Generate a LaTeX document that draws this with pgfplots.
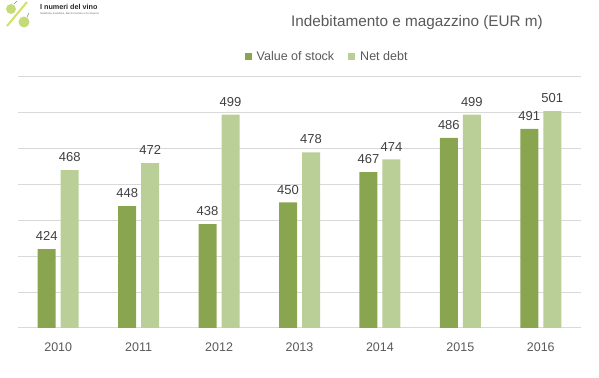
\documentclass[border=0pt]{standalone}
\usepackage{fontspec}
\setmainfont{Liberation Sans}
\usepackage{pgfplots}
\pgfplotsset{compat=1.18}
\definecolor{darkg}{HTML}{8AA54F}
\definecolor{lightg}{HTML}{BACE97}
\definecolor{gridg}{HTML}{D9D9D9}
\definecolor{txt}{HTML}{595959}
\definecolor{lbl}{HTML}{404040}
\definecolor{grape}{HTML}{C5DB7A}
\begin{document}
\begin{tikzpicture}
\path[use as bounding box] (0,0) rectangle (599bp,378bp);
% logo
\draw[grape!80!yellow, line width=2bp] (7bp,352bp) -- (27bp,376bp);
\fill[grape] (11bp,369bp) circle (5bp);
\fill[grape] (24bp,356bp) circle (5.5bp);
\draw[green!40!black!60, line width=0.5bp] (14bp,374bp) -- (17bp,377bp);
\draw[green!40!black!60, line width=0.5bp] (27bp,361bp) -- (29bp,365bp);
\node[anchor=west, inner sep=0pt, font=\fontsize{7.2bp}{8bp}\selectfont\bfseries, text=black!85] at (40bp,371bp) {I numeri del vino};
\node[anchor=west, inner sep=0pt, font=\fontsize{2.6bp}{3bp}\selectfont, text=black!60] at (40bp,364bp) {Statistiche produttive, dati di mercato e di consumo};
% title
\node[font=\fontsize{15.3bp}{18bp}\selectfont, text=txt] at (417bp,355bp) {Indebitamento e magazzino (EUR m)};
\begin{axis}[
  at={(18bp,50bp)}, anchor=south west, scale only axis,
  width=563bp, height=251bp,
  xmin=-0.5, xmax=6.5, ymin=380, ymax=520,
  ytick={380,400,...,520}, yticklabels={},
  ymajorgrids, grid style={draw=gridg, line width=1bp},
  axis line style={draw=none}, major tick length=0pt,
  xtick={0,...,6}, xticklabels={2010,2011,2012,2013,2014,2015,2016},
  xticklabel style={font=\fontsize{12.5bp}{14bp}\selectfont, text=txt, anchor=center, yshift=-19bp},
  ybar=5bp, bar width=18bp,
  /pgf/number format/assume math mode=true,
  nodes near coords,
  nodes near coords style={font=\fontsize{13bp}{15bp}\selectfont, text=lbl, anchor=south, inner sep=0pt, yshift=8bp},
  legend columns=2,
  legend style={at={(0.549,1.08)}, anchor=center, draw=none, fill=none,
    font=\fontsize{12.5bp}{14bp}\selectfont, text=txt,
    /tikz/every odd column/.append style={column sep=3bp},
    /tikz/every even column/.append style={column sep=12bp}},
  legend image code/.code={\fill[#1] (0bp,-3.5bp) rectangle (7bp,3.5bp);},
]
\addplot[fill=darkg, draw=none] coordinates {(0,424) (1,448) (2,438) (3,450) (4,467) (5,486) (6,491)};
\addplot[fill=lightg, draw=none] coordinates {(0,468) (1,472) (2,499) (3,478) (4,474) (5,499) (6,501)};
\legend{Value of stock, Net debt}
\end{axis}
\end{tikzpicture}
\end{document}
